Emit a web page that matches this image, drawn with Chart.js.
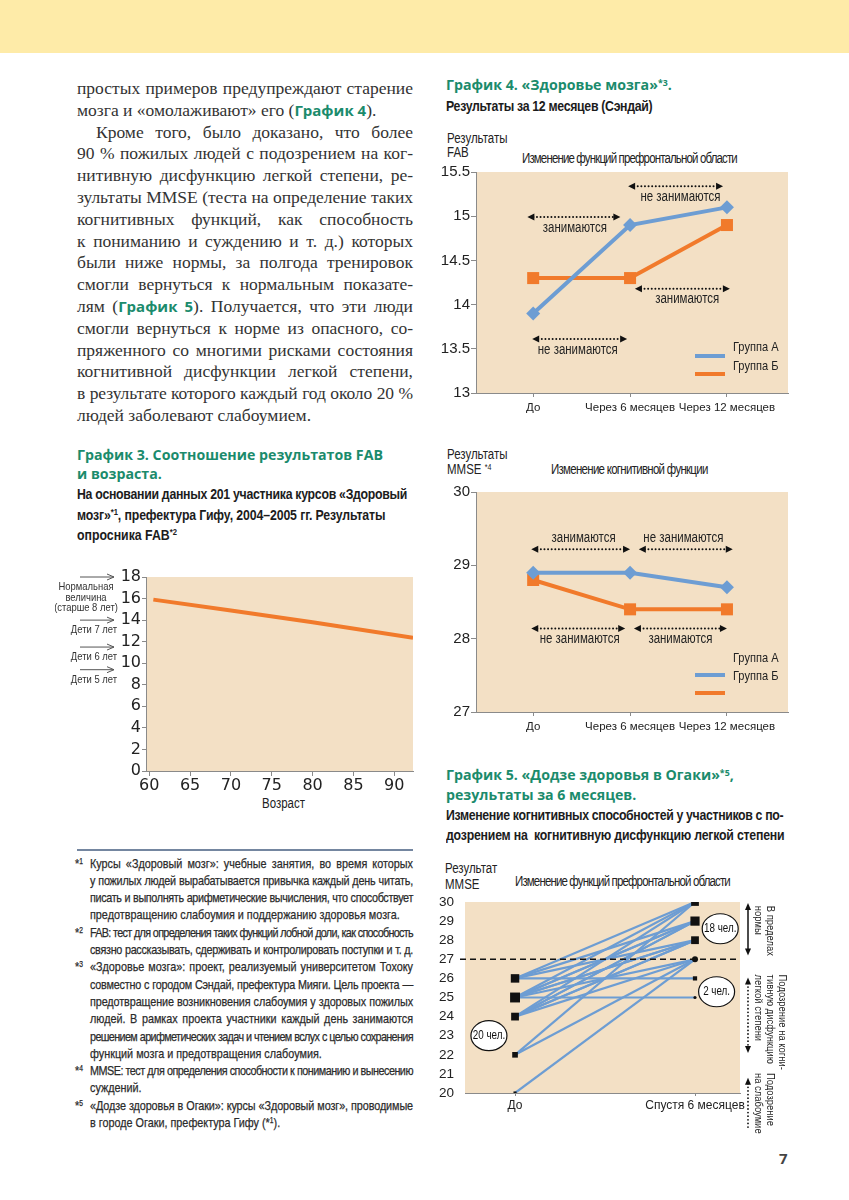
<!DOCTYPE html>
<html lang="ru">
<head>
<meta charset="utf-8">
<title>Графики 3–5</title>
<script src="https://cdn.jsdelivr.net/npm/chart.js@4.4.1/dist/chart.umd.min.js"></script>
<style>
  html, body { margin: 0; padding: 0; background: #fff; }
  body { width: 849px; height: 1200px; position: relative; overflow: hidden; color: #2e2e2e; }
  .band { position: absolute; left: 0; top: 0; width: 849px; height: 53px; background: #feeba8; }
  .t { position: absolute; white-space: nowrap; }
  .t > span { display: inline-block; transform-origin: left center; }
  .serif { font-family: 'Liberation Serif', 'DejaVu Serif', serif; font-size: 17.5px; color: #333; }
  .narrow { font-family: 'Liberation Sans', Arial, sans-serif; }
  .green { font-family: 'Open Sans', 'Noto Sans', sans-serif; font-weight: 700; color: #1b8b6c; }
  .gt { font-family: 'Open Sans', 'Noto Sans', sans-serif; font-weight: 700; font-size: 14.2px; color: #1b8b6c; }
  .sub { font-weight: 700; font-size: 15px; color: #1c1c1c; }
  .note { font-size: 13.2px; color: #2b2b2b; -webkit-text-stroke: 0.25px #2b2b2b; }
  .lab { font-size: 14px; color: #222; }
  sup { font-size: 0.62em; vertical-align: 0.5em; line-height: 0; }
  canvas { position: absolute; }
  .rule { position: absolute; left: 77px; top: 849px; width: 336px; height: 2px; background: #7486a0; }
</style>
</head>
<body>
<div class="band"></div>
<div id="texts"></div>
<div class="rule"></div>
<canvas id="chartAge" width="370" height="250" style="left:55px;top:565px"></canvas>
<canvas id="chartFab" width="370" height="262" style="left:440px;top:160px"></canvas>
<canvas id="chartMmse" width="370" height="262" style="left:440px;top:480px"></canvas>
<canvas id="chartDojo" width="370" height="245" style="left:430px;top:890px"></canvas>
<script>
// ---- данные ----
// График 3
const ageValues = [60.5, 70, 80, 92.3];
const fabByAge = [15.9, 14.9, 13.8, 12.35];
const ageTicks = [60, 65, 70, 75, 80, 85, 90];
const fabAgeTicks = [0, 2, 4, 6, 8, 10, 12, 14, 16, 18];
const fabRefValues = [18, 14, 11.5, 9.4];
const fabRefLabels = [['Нормальная', 'величина', '(старше 8 лет)'], ['Дети 7 лет'], ['Дети 6 лет'], ['Дети 5 лет']];

// График 4
const periods = ['До', 'Через 6 месяцев', 'Через 12 месяцев'];
const groupNames = ['Группа А', 'Группа Б'];
const fabGroupA = [13.9, 14.9, 15.1];
const fabGroupB = [14.3, 14.3, 14.9];
const fabTicks = [13, 13.5, 14, 14.5, 15, 15.5];
const mmseGroupA = [28.9, 28.9, 28.7];
const mmseGroupB = [28.8, 28.4, 28.4];
const mmseTicks = [27, 28, 29, 30];

// График 5 (20 участников: до -> спустя 6 месяцев)
const dojoPeriods = ['До', 'Спустя 6 месяцев'];
const dojoBefore = [26, 26, 26, 26, 25, 25, 25, 25, 25, 25, 25, 24, 24, 24, 24, 24, 24, 22, 22, 20];
const dojoAfter  = [30, 29, 28, 26, 30, 29, 29, 28, 27, 25, 28, 30, 29, 29, 28, 28, 27, 30, 27, 27];
const dojoBeforeLevels = [26, 25, 24, 22, 20];
const dojoAfterLevels = [30, 29, 28, 27, 26, 25];
const dojoTicks = [20, 21, 22, 23, 24, 25, 26, 27, 28, 29, 30];
const dojoNorm = 27;

// ---- тексты страницы ----
const SANS = "'Liberation Sans', Arial, sans-serif";
const NK = 0.82; // сжатие по горизонтали вместо узкого шрифта
const box = document.getElementById('texts');
function line(html, x, cy, cls, w, lh, justify) {
  const d = document.createElement('div');
  d.className = 't ' + cls;
  d.style.left = x + 'px';
  d.style.lineHeight = lh + 'px';
  d.style.top = (cy - lh / 2) + 'px';
  const s = document.createElement('span');
  s.innerHTML = html;
  d.appendChild(s);
  box.appendChild(d);
  const k = cls.indexOf('narrow') >= 0 ? NK : 1;
  if (k !== 1) s.style.transform = 'scaleX(' + k + ')';
  if (w) {
    const nat = s.offsetWidth * k;
    if (nat > w - 1) {
      s.style.letterSpacing = ((w - 1.5 - nat) / k / s.textContent.length) + 'px';
    }
    if (justify) {
      s.style.whiteSpace = 'normal';
      s.style.width = (w / k) + 'px';
      s.style.textAlign = 'justify';
      s.style.textAlignLast = 'justify';
    }
  }
  return d;
}

const g = s => '<span class="green" style="font-size:15px">' + s + '</span>';
const bodyLines = [
  ['простых примеров предупреждают старение', 0, true],
  ['мозга и «омолаживают» его (' + g('График 4') + ').', 0, false],
  ['Кроме того, было доказано, что более', 19, true],
  ['90 % пожилых людей с подозрением на ког-', 0, true],
  ['нитивную дисфункцию легкой степени, ре-', 0, true],
  ['зультаты MMSE (теста на определение таких', 0, true],
  ['когнитивных функций, как способность', 0, true],
  ['к пониманию и суждению и т. д.) которых', 0, true],
  ['были ниже нормы, за полгода тренировок', 0, true],
  ['смогли вернуться к нормальным показате-', 0, true],
  ['лям (' + g('График 5') + '). Получается, что эти люди', 0, true],
  ['смогли вернуться к норме из опасного, со-', 0, true],
  ['пряженного со многими рисками состояния', 0, true],
  ['когнитивной дисфункции легкой степени,', 0, true],
  ['в результате которого каждый год около 20 %', 0, true],
  ['людей заболевают слабоумием.', 0, false]
];
bodyLines.forEach((l, i) => line(l[0], 77 + l[1], 88 + i * 21.8, 'serif', 336 - l[1], 22, l[2]));

const notes = [
  ['1', ['Курсы «Здоровый мозг»: учебные занятия, во время которых', 'у пожилых людей вырабатывается привычка каждый день читать,', 'писать и выполнять арифметические вычисления, что способствует', 'предотвращению слабоумия и поддержанию здоровья мозга.']],
  ['2', ['FAB: тест для определения таких функций лобной доли, как способность', 'связно рассказывать, сдерживать и контролировать поступки и т. д.']],
  ['3', ['«Здоровье мозга»: проект, реализуемый университетом Тохоку', 'совместно с городом Сэндай, префектура Мияги. Цель проекта —', 'предотвращение возникновения слабоумия у здоровых пожилых', 'людей. В рамках проекта участники каждый день занимаются', 'решением арифметических задач и чтением вслух с целью сохранения', 'функций мозга и предотвращения слабоумия.']],
  ['4', ['MMSE: тест для определения способности к пониманию и вынесению', 'суждений.']],
  ['5', ['«Додзе здоровья в Огаки»: курсы «Здоровый мозг», проводимые', 'в городе Огаки, префектура Гифу (*<sup>1</sup>).']]
];
let k = 0;
notes.forEach(n => {
  line('*<sup>' + n[0] + '</sup>', 75, 863 + k * 17.3, 'narrow note', 0, 17);
  n[1].forEach((txt, j) => {
    const last = j === n[1].length - 1;
    const full = !last || n[0] === '2';
    line(txt, 90, 863 + k * 17.3, 'narrow note', 323, 17, full);
    k++;
  });
});

// заголовки графиков
line('График 3. Соотношение результатов FAB', 77, 455, 'gt', 0, 20);
line('и возраста.', 77, 474, 'gt', 0, 20);
line('На основании данных 201 участника курсов «Здоровый', 77, 494, 'narrow sub', 332, 20);
line('мозг»<sup>*1</sup>, префектура Гифу, 2004–2005 гг. Результаты', 77, 515, 'narrow sub', 310, 20);
line('опросника FAB<sup>*2</sup>', 77, 535, 'narrow sub', 0, 20);
line('Возраст', 262, 803, 'narrow lab', 0, 16);

line('График 4. «Здоровье мозга»<sup>*3</sup>.', 446, 85, 'gt', 0, 20);
line('Результаты за 12 месяцев (Сэндай)', 446, 106, 'narrow sub', 208, 20);
line('Результаты', 447, 138, 'narrow lab', 0, 14);
line('FAB', 447, 152, 'narrow lab', 0, 14);
line('Изменение функций префронтальной области', 522, 158, 'narrow lab', 216, 14);
line('Результаты', 447, 454, 'narrow lab', 0, 14);
line('MMSE <sup>*4</sup>', 447, 469, 'narrow lab', 0, 14);
line('Изменение когнитивной функции', 551, 469, 'narrow lab', 158, 14);

line('График 5. «Додзе здоровья в Огаки»<sup>*5</sup>,', 446, 775, 'gt', 0, 20);
line('результаты за 6 месяцев.', 446, 795, 'gt', 0, 20);
line('Изменение когнитивных способностей у участников с по-', 446, 815, 'narrow sub', 339, 20);
line('дозрением на&nbsp; когнитивную дисфункцию легкой степени', 446, 835, 'narrow sub', 340, 20);
line('Результат', 445, 868, 'narrow lab', 0, 14);
line('MMSE', 445, 884, 'narrow lab', 0, 14);
line('Изменение функций префронтальной области', 515, 881, 'narrow lab', 216, 14);

const pg = line('7', 779, 1158, 'gt', 0, 18);
pg.style.color = '#444'; pg.style.fontSize = '15px';

// ---- общие элементы графиков ----
const BEIGE = '#f3e0c5';
const BLUE = '#6d9dd3';
const ORANGE = '#f17a2b';
const AXIS = '#8a8a8a';
Chart.defaults.font.family = SANS;
Chart.defaults.color = '#222';
Chart.defaults.animation = false;

// сжатый текст на холсте
function ntext(ctx, t, x, y, align, rot) {
  ctx.save();
  ctx.translate(x, y);
  if (rot) ctx.rotate(rot);
  ctx.scale(NK, 1);
  ctx.textAlign = align || 'left';
  ctx.fillText(t, 0, 0);
  ctx.restore();
}

const beige = {
  id: 'beige',
  beforeDraw(chart) {
    const { ctx, chartArea: a } = chart;
    ctx.save();
    ctx.fillStyle = BEIGE;
    ctx.fillRect(a.left, a.top, a.right - a.left, a.bottom - a.top);
    ctx.restore();
  }
};

function tri(ctx, x, y, ang, hl, hw, open) {
  const c = Math.cos(ang), s = Math.sin(ang);
  ctx.beginPath();
  ctx.moveTo(x - c * hl + s * hw, y - s * hl - c * hw);
  ctx.lineTo(x, y);
  ctx.lineTo(x - c * hl - s * hw, y - s * hl + c * hw);
  if (open) { ctx.stroke(); } else { ctx.closePath(); ctx.fill(); }
}

function arrow(ctx, x1, y1, x2, y2, o) {
  const ang = Math.atan2(y2 - y1, x2 - x1);
  const hl = o.hl || 7, hw = o.hw || 3.5;
  const c = Math.cos(ang), s = Math.sin(ang);
  ctx.save();
  ctx.strokeStyle = ctx.fillStyle = o.color || '#111';
  ctx.lineWidth = o.width || 1.5;
  const sh = o.start && !o.open ? hl - 1 : 0, eh = o.end && !o.open ? hl - 1 : 0;
  if (o.dotted) { ctx.setLineDash([0.01, 3.6]); ctx.lineCap = 'round'; }
  ctx.beginPath();
  ctx.moveTo(x1 + c * sh, y1 + s * sh);
  ctx.lineTo(x2 - c * eh, y2 - s * eh);
  ctx.stroke();
  ctx.setLineDash([]);
  ctx.lineCap = 'butt';
  if (o.open) ctx.lineWidth = 1;
  if (o.start) tri(ctx, x1, y1, ang + Math.PI, hl, hw, o.open);
  if (o.end) tri(ctx, x2, y2, ang, hl, hw, o.open);
  ctx.restore();
}

const gridStyle = { display: true, drawOnChartArea: false, drawTicks: true, tickLength: 5, color: AXIS };
const setTicks = list => axis => { axis.ticks = list.map(v => ({ value: v })); };

// ---- График 3 ----
const ageRefs = {
  id: 'ageRefs',
  afterDraw(chart) {
    const { ctx, chartArea: a, scales: { y } } = chart;
    ctx.save();
    ctx.font = '11.5px ' + SANS;
    ctx.fillStyle = '#333';
    ctx.textBaseline = 'middle';
    fabRefValues.forEach((v, i) => {
      const py = y.getPixelForValue(v);
      arrow(ctx, a.left - 66, py, a.left - 32, py, { end: true, open: true, color: '#555', width: 1, hl: 7, hw: 3 });
      const rows = fabRefLabels[i];
      rows.forEach((r, j) => {
        if (rows.length > 1) ntext(ctx, r, a.left - 60, py + 10 + j * 10.5, 'center');
        else ntext(ctx, r, a.left - 29, py + 10, 'right');
      });
    });
    ctx.restore();
  }
};

new Chart(document.getElementById('chartAge'), {
  type: 'line',
  data: {
    datasets: [{
      data: ageValues.map((a, i) => ({ x: a, y: fabByAge[i] })),
      borderColor: ORANGE, borderWidth: 4, pointRadius: 0, tension: 0
    }]
  },
  options: {
    responsive: false,
    layout: { padding: { top: 12, right: 12 } },
    plugins: { legend: { display: false }, tooltip: { enabled: false } },
    scales: {
      x: {
        type: 'linear', min: 59.6, max: 92.3,
        afterBuildTicks: setTicks(ageTicks),
        ticks: { font: { family: "'DejaVu Sans', sans-serif", size: 16 }, color: '#222', padding: 0, maxRotation: 0, autoSkip: false },
        grid: gridStyle, border: { color: AXIS },
        afterFit: ax => { ax.height = 44; }
      },
      y: {
        min: 0, max: 18,
        afterBuildTicks: setTicks(fabAgeTicks),
        ticks: { font: { family: "'DejaVu Sans', sans-serif", size: 16 }, color: '#222', padding: 1, autoSkip: false },
        grid: Object.assign({}, gridStyle, { tickLength: 4 }), border: { color: AXIS },
        afterFit: ax => { ax.width = 91; }
      }
    }
  },
  plugins: [beige, ageRefs]
});

// ---- График 4 ----
const groupDecor = {
  id: 'groupDecor',
  afterDraw(chart, args, opts) {
    const { ctx, chartArea: a, scales: { x, y } } = chart;
    ctx.save();
    ctx.font = '14px ' + SANS;
    ctx.fillStyle = '#222';
    ctx.textBaseline = 'middle';
    opts.notes.forEach(n => {
      arrow(ctx, x.getPixelForValue(n.from), y.getPixelForValue(n.at), x.getPixelForValue(n.to), y.getPixelForValue(n.at),
        { dotted: true, start: true, end: true, width: 2, hl: 7, hw: 3.5 });
      ntext(ctx, n.text, x.getPixelForValue(n.tx), y.getPixelForValue(n.at) + n.dy, 'center');
    });
    ctx.font = '13.5px ' + SANS;
    opts.legend.forEach((l, i) => {
      ctx.fillStyle = '#222';
      ntext(ctx, groupNames[i], a.right - 55, a.bottom + l.text, 'left');
      ctx.fillStyle = i === 0 ? BLUE : ORANGE;
      ctx.fillRect(a.right - 93, a.bottom + l.line - 2, 30, 4);
    });
    ctx.restore();
  }
};

function groupChart(id, aVals, bVals, ticks, notesCfg, legendCfg, xHeight) {
  return new Chart(document.getElementById(id), {
    type: 'line',
    data: {
      datasets: [
        { label: groupNames[1], data: bVals.map((v, i) => ({ x: i, y: v })), borderColor: ORANGE, backgroundColor: ORANGE,
          borderWidth: 4, pointStyle: 'rect', pointRadius: 8.5, pointBorderWidth: 0, order: 1 },
        { label: groupNames[0], data: aVals.map((v, i) => ({ x: i, y: v })), borderColor: BLUE, backgroundColor: BLUE,
          borderWidth: 4, pointStyle: 'rectRot', pointRadius: 7, pointBorderWidth: 0, order: 0 }
      ]
    },
    options: {
      responsive: false,
      layout: { padding: { top: 12, right: 22 } },
      plugins: { legend: { display: false }, tooltip: { enabled: false }, groupDecor: { notes: notesCfg, legend: legendCfg } },
      scales: {
        x: {
          type: 'linear', min: -0.59, max: 2.63,
          afterBuildTicks: setTicks(periods.map((p, i) => i)),
          ticks: { callback: v => periods[v], font: { size: 11.5 }, color: '#222', padding: 4, maxRotation: 0, autoSkip: false },
          grid: Object.assign({}, gridStyle, { tickLength: 4 }), border: { color: AXIS },
          afterFit: ax => { ax.height = xHeight; }
        },
        y: {
          min: ticks[0], max: ticks[ticks.length - 1],
          afterBuildTicks: setTicks(ticks),
          ticks: { callback: v => String(v), font: { size: 15 }, color: '#222', padding: 1, autoSkip: false },
          grid: gridStyle, border: { color: AXIS },
          afterFit: ax => { ax.width = 36; }
        }
      }
    },
    plugins: [beige, groupDecor]
  });
}

groupChart('chartFab', fabGroupA, fabGroupB, fabTicks, [
  { from: -0.06, to: 0.9, at: 14.99, tx: 0.43, dy: 11, text: 'занимаются' },
  { from: 0.98, to: 1.96, at: 15.34, tx: 1.52, dy: 11, text: 'не занимаются' },
  { from: 1.05, to: 2.03, at: 14.18, tx: 1.59, dy: 10, text: 'занимаются' },
  { from: -0.01, to: 0.97, at: 13.61, tx: 0.46, dy: 11, text: 'не занимаются' }
], [{ text: -46, line: -37 }, { text: -27, line: -19 }], 29);

groupChart('chartMmse', mmseGroupA, mmseGroupB, mmseTicks, [
  { from: -0.02, to: 1.0, at: 29.22, tx: 0.52, dy: -11, text: 'занимаются' },
  { from: 1.09, to: 2.06, at: 29.22, tx: 1.55, dy: -11, text: 'не занимаются' },
  { from: -0.02, to: 0.95, at: 28.14, tx: 0.48, dy: 11, text: 'не занимаются' },
  { from: 1.04, to: 2.0, at: 28.14, tx: 1.52, dy: 11, text: 'занимаются' }
], [{ text: -54, line: -37 }, { text: -36, line: -19 }], 30);

// ---- График 5 ----
const dojoDecor = {
  id: 'dojoDecor',
  afterDatasetsDraw(chart) {
    const { ctx, chartArea: a, scales: { x, y } } = chart;
    ctx.save();
    ctx.strokeStyle = '#111';
    ctx.lineWidth = 1.6;
    ctx.setLineDash([6, 4]);
    const ny = y.getPixelForValue(dojoNorm);
    ctx.beginPath(); ctx.moveTo(a.left - 5, ny); ctx.lineTo(a.right, ny); ctx.stroke();
    ctx.setLineDash([]);
    // овалы с числом участников
    const ovals = [['20 чел.', -0.145, 23.0], ['18 чел.', 1.14, 28.6], ['2 чел.', 1.12, 25.3]];
    ctx.font = '12px ' + SANS;
    ctx.textBaseline = 'middle';
    ovals.forEach(o => {
      const px = x.getPixelForValue(o[1]), py = y.getPixelForValue(o[2]);
      ctx.beginPath(); ctx.ellipse(px, py, 18, 15, 0, 0, Math.PI * 2);
      ctx.fillStyle = '#fff'; ctx.fill();
      ctx.lineWidth = 1.2; ctx.strokeStyle = '#111'; ctx.stroke();
      ctx.fillStyle = '#111';
      ntext(ctx, o[0], px, py, 'center');
    });
    ctx.restore();
  },
  afterDraw(chart) {
    const { ctx, chartArea: a, scales: { y } } = chart;
    const ax = a.right + 8;
    arrow(ctx, ax, y.getPixelForValue(29.95), ax, y.getPixelForValue(27.2), { start: true, end: true, width: 1.5, hl: 7, hw: 3 });
    arrow(ctx, ax, y.getPixelForValue(26.05), ax, y.getPixelForValue(22.1), { dotted: true, start: true, end: true, width: 1.8, hl: 7, hw: 3 });
    arrow(ctx, ax, y.getPixelForValue(20.8), ax, y.getPixelForValue(18.05), { dotted: true, start: true, width: 1.8, hl: 7, hw: 3 });
    const groups = [
      [29.8, ['В пределах', 'нормы']],
      [26.2, ['Подозрение на когни-', 'тивную дисфункцию', 'легкой степени']],
      [21.05, ['Подозрение', 'на слабоумие']]
    ];
    ctx.save();
    ctx.font = '11.5px ' + SANS;
    ctx.fillStyle = '#222';
    ctx.textBaseline = 'middle';
    groups.forEach(gr => {
      const top = y.getPixelForValue(gr[0]);
      const n = gr[1].length;
      gr[1].forEach((t, i) => {
        ntext(ctx, t, a.right + 18 + (n - 1 - i) * 12, top, 'left', Math.PI / 2);
      });
    });
    ctx.restore();
  }
};

const dojoLines = dojoBefore.map((b, i) => ({
  data: [{ x: 0, y: b }, { x: 1, y: dojoAfter[i] }],
  showLine: true, borderColor: BLUE, borderWidth: 2.2, pointRadius: 0, order: 2
}));
const dojoMarkers = [
  { data: dojoBeforeLevels.map(v => ({ x: 0, y: v })), pointStyle: 'rect',
    pointRadius: [6, 7, 5.5, 4, 2.2], backgroundColor: '#111', borderColor: '#111', pointBorderWidth: 0, order: 0 },
  { data: dojoAfterLevels.map(v => ({ x: 1, y: v })), pointStyle: ['rect', 'rect', 'rect', 'circle', 'rect', 'circle'],
    pointRadius: [5.5, 6.5, 5.5, 3, 3, 1.6], backgroundColor: '#111', borderColor: '#111', pointBorderWidth: 0, order: 0 }
];

new Chart(document.getElementById('chartDojo'), {
  type: 'scatter',
  data: { datasets: dojoLines.concat(dojoMarkers) },
  options: {
    responsive: false,
    layout: { padding: { top: 12, right: 60 } },
    plugins: { legend: { display: false }, tooltip: { enabled: false } },
    scales: {
      x: {
        type: 'linear', min: -0.278, max: 1.25,
        afterBuildTicks: setTicks([0, 1]),
        ticks: { callback: v => dojoPeriods[v], font: { size: 12 }, color: '#222', padding: 2, maxRotation: 0, autoSkip: false },
        grid: Object.assign({}, gridStyle, { tickLength: 3 }), border: { color: AXIS },
        afterFit: ax => { ax.height = 42; }
      },
      y: {
        min: 20, max: 30,
        afterBuildTicks: setTicks(dojoTicks),
        ticks: { font: { size: 13.5 }, color: '#222', padding: 3, autoSkip: false },
        grid: { display: false }, border: { display: false },
        afterFit: ax => { ax.width = 35; }
      }
    }
  },
  plugins: [beige, dojoDecor]
});
</script>
</body>
</html>
